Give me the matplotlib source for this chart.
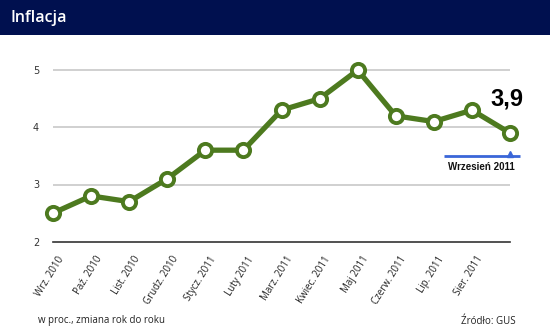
import matplotlib.pyplot as plt
from matplotlib.patches import Rectangle
from matplotlib.transforms import ScaledTranslation

months = ["Wrz. 2010", "Paź. 2010", "List. 2010", "Grudz. 2010", "Stycz. 2011",
          "Luty 2011", "Marz. 2011", "Kwiec. 2011", "Maj 2011", "Czerw. 2011",
          "Lip. 2011", "Sier. 2011", "Wrzesień 2011"]
inflation = [2.5, 2.8, 2.7, 3.1, 3.6, 3.6, 4.3, 4.5, 5.0, 4.2, 4.1, 4.3, 3.9]
yticks = [2, 3, 4, 5]

green = "#4d7a1f"
navy = "#00104f"
blue = "#3a66d8"

fig = plt.figure(figsize=(5.5, 3.3), dpi=100)
fig.patch.set_facecolor("white")

# header bar
fig.add_artist(Rectangle((0, 1 - 35 / 330), 1, 35 / 330, transform=fig.transFigure,
                         facecolor=navy, edgecolor="none"))
fig.text(11 / 550, 1 - 18 / 330, "Inflacja", color="white", fontsize=11.5,
         fontweight="semibold", va="center", ha="left", family="Open Sans")

ax = fig.add_axes([53 / 550, 1 - 241.7 / 330, 457 / 550, 3.5 * 57.2 / 330])
x = list(range(len(months)))
ax.set_xlim(0, len(months) - 1)
ax.set_ylim(2, 5.5)

for s in ["top", "right", "left"]:
    ax.spines[s].set_visible(False)
ax.spines["bottom"].set_color("#333333")
ax.spines["bottom"].set_linewidth(1.2)

for y in yticks[1:]:
    ax.axhline(y, color="#c8c8c8", lw=1.2, zorder=1)

ax.set_yticks(yticks)
ax.set_yticklabels([str(v) for v in yticks], fontsize=7, color="#333333")
ax.tick_params(axis="y", length=0, pad=10)

ax.set_xticks(x[:-1])
ax.set_xticklabels(months[:-1], rotation=58, ha="right", rotation_mode="anchor",
                   fontsize=7, color="#222222", family="Open Sans")
ax.tick_params(axis="x", length=0, pad=9)
shift = ScaledTranslation(4 / 100, 0, fig.dpi_scale_trans)
for lbl in ax.get_xticklabels():
    lbl.set_transform(lbl.get_transform() + shift)

ax.plot(x, inflation, color=green, lw=3.8, marker="o", markersize=9.5,
        markerfacecolor="white", markeredgecolor=green, markeredgewidth=2.8,
        zorder=3, clip_on=False)

# highlight for the latest month
last = len(months) - 1
ax.plot([last - 1.74, last + 0.26], [3.5, 3.5], color=blue, lw=2, clip_on=False,
        solid_capstyle="butt")
ax.plot([last], [3.53], marker="^", color=blue, markersize=5, clip_on=False)
ax.text(last - 0.75, 3.31, months[-1], fontsize=7, fontweight="bold",
        ha="center", va="center", color="#111111", family="Liberation Sans")
ax.text(last - 0.08, 4.49, f"{inflation[-1]:.1f}".replace(".", ","), fontsize=17,
        fontweight="bold", ha="center", va="center", color="black",
        family="Liberation Sans")

fig.text(38 / 550, 1 - 321 / 330, "w proc., zmiana rok do roku", fontsize=7,
         ha="left", va="center", color="#222222", family="Open Sans")
fig.text(516 / 550, 1 - 321 / 330, "Źródło: GUS", fontsize=7,
         ha="right", va="center", color="#222222", family="Open Sans")

fig.savefig("out.png", dpi=100)
